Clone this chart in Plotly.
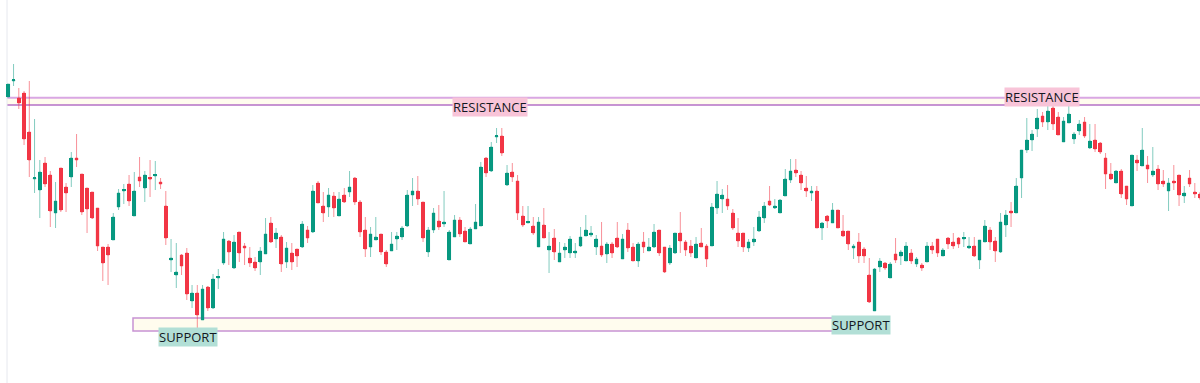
import plotly.graph_objects as go

# ---- data (price units) ----
open_ = [303,319,302,307,268,221,210,237,225,187,
         232,213,223,242,226,212,208,192,153,153,
         160,193,209,216,184,223,212,222,224,218,
         194,140,125,145,147,99,107,80,113,92,
         122,137,159,132,168,154,142,138,138,146,
         177,161,163,138,147,151,153,170,168,217,
         194,193,204,184,205,208,222,198,170,153,
         160,166,148,149,161,163,174,205,209,198,
         148,170,179,176,140,163,180,169,156,171,
         174,242,229,263,264,215,228,219,184,177,
         174,153,175,150,162,138,150,147,147,154,
         164,165,153,154,146,156,162,141,170,153,
         139,158,149,153,170,153,137,147,167,158,
         154,142,157,154,154,192,201,201,187,167,
         167,152,158,169,182,199,192,187,204,220,
         230,225,212,207,209,172,184,177,190,169,
         169,152,158,151,125,89,133,137,122,146,
         144,139,147,136,135,138,154,161,144,162,
         158,162,161,152,154,140,158,170,159,148,
         175,189,187,222,250,260,271,284,278,292,
         283,258,277,261,269,278,252,260,257,242,
         226,217,229,214,194,240,234,235,225,231,
         219,209,219,225,204,222,208,206]
high = [316,336,312,309,319,281,240,243,229,218,
        232,217,248,266,226,212,208,192,153,156,
        187,211,216,225,228,243,229,240,239,222,
        209,161,157,146,152,115,115,115,114,126,
        131,168,160,165,168,157,153,143,153,182,
        183,172,165,158,157,151,179,174,215,219,
        208,212,208,208,212,229,223,200,183,173,
        183,166,150,168,168,174,210,222,224,198,
        173,192,195,209,170,185,183,173,173,196,
        238,243,258,272,272,235,237,225,194,194,
        183,183,192,168,171,158,157,164,157,173,
        185,174,165,178,158,158,178,166,177,157,
        158,168,162,176,170,153,155,167,188,160,
        160,163,172,156,197,219,211,215,191,182,
        167,161,173,189,198,214,201,201,231,241,
        241,229,224,214,214,178,185,197,190,185,
        169,156,167,153,142,132,142,138,138,162,
        150,158,151,143,137,158,158,161,152,163,
        167,163,168,163,163,160,180,173,163,187,
        190,198,222,250,282,270,291,288,294,302,
        288,283,307,268,280,283,276,276,258,247,
        237,230,231,214,245,245,272,244,253,235,
        230,222,235,225,214,230,217,208]
low = [303,314,291,255,223,207,182,213,173,172,
       188,188,213,233,185,167,181,149,119,115,
       160,190,196,194,184,213,198,203,210,211,
       155,128,112,125,100,92,68,80,89,91,
       111,135,135,131,138,135,133,129,125,146,
       157,152,128,132,130,133,152,157,167,197,
       178,183,183,184,197,203,195,163,143,143,
       160,145,133,149,150,160,173,194,195,158,
       143,167,170,173,140,163,163,158,156,171,
       174,223,228,257,244,214,218,180,173,177,
       165,153,162,127,140,138,142,142,142,153,
       164,163,145,143,137,142,152,141,148,139,
       133,147,149,152,144,127,135,146,147,144,
       143,142,153,133,154,186,187,190,170,153,
       148,148,154,168,177,194,191,187,204,217,
       223,210,203,199,172,160,172,177,172,163,
       150,141,137,137,97,89,128,130,122,137,
       135,139,136,133,129,138,146,143,144,151,
       151,152,153,151,143,131,158,150,138,147,
       163,173,187,202,247,249,263,273,270,270,
       265,258,277,256,265,262,251,248,246,211,
       220,217,202,195,194,229,234,217,223,210,
       213,189,210,194,197,213,202,200]
close = [316,320,297,261,240,222,228,216,189,199,
         190,207,242,240,188,191,182,154,137,145,
         183,207,210,199,209,219,225,221,225,216,
         162,142,128,134,106,107,85,111,92,121,
         123,161,148,158,147,152,137,132,149,166,
         158,167,136,152,138,144,176,162,209,197,
         187,205,192,201,198,213,198,168,151,166,
         163,148,136,156,164,172,205,209,201,162,
         170,187,173,178,168,180,166,158,171,178,
         233,227,253,264,247,227,223,187,175,178,
         167,178,162,154,148,147,153,161,149,163,
         170,167,161,145,156,147,153,161,152,139,
         156,153,153,168,147,128,152,167,159,150,
         147,156,153,141,193,206,205,194,172,159,
         153,158,161,183,194,195,194,200,221,229,
         227,217,209,209,172,177,179,190,172,164,
         156,154,144,144,98,131,139,132,136,140,
         148,154,139,141,132,154,150,147,150,156,
         154,156,162,154,144,160,174,158,149,178,
         185,187,214,250,260,266,282,278,289,276,
         265,279,286,266,276,264,259,251,248,226,
         221,229,206,201,245,237,250,231,229,216,
         216,217,217,205,207,216,206,202]
sessions = list(range(1, len(open_) + 1))

# zone levels (price units)
resistance_top, resistance_bottom = 302.3, 295.0
support_top, support_bottom = 82.0, 69.0

UP, DOWN = "#089981", "#f23645"
UP_WICK, DOWN_WICK = "rgba(8,153,129,0.5)", "rgba(242,54,69,0.55)"

fig = go.Figure()

# zones (drawn below the candles)
fig.add_shape(type="rect", xref="paper", yref="y", x0=7/1200, x1=1, y0=resistance_bottom, y1=resistance_top,
              fillcolor="#fffcee", line_width=0, layer="below")
fig.add_shape(type="line", xref="paper", yref="y", x0=7/1200, x1=1, y0=resistance_top, y1=resistance_top,
              line=dict(color="#d9a7e3", width=2), layer="below")
fig.add_shape(type="line", xref="paper", yref="y", x0=7/1200, x1=1, y0=resistance_bottom, y1=resistance_bottom,
              line=dict(color="#b571c6", width=1.5), layer="below")
fig.add_shape(type="rect", xref="paper", yref="y", x0=133/1200, x1=889/1200, y0=support_bottom, y1=support_top,
              fillcolor="#fffcee", line=dict(color="#c892d4", width=1.5), layer="below")
fig.add_shape(type="line", xref="paper", yref="paper", x0=7/1200, x1=7/1200, y0=0, y1=1,
              line=dict(color="#e6e8ee", width=1), layer="below")

fig.add_trace(go.Candlestick(
    x=sessions, open=open_, high=high, low=low, close=close,
    increasing=dict(line=dict(color=UP_WICK, width=1), fillcolor=UP_WICK),
    decreasing=dict(line=dict(color=DOWN_WICK, width=1), fillcolor=DOWN_WICK),
    whiskerwidth=0, hoverinfo="skip", showlegend=False))

body_base = [min(o, c) for o, c in zip(open_, close)]
body_len = [max(abs(c - o), 1.2) for o, c in zip(open_, close)]
body_col = [UP if c >= o else DOWN for o, c in zip(open_, close)]
fig.add_trace(go.Bar(x=sessions, base=body_base, y=body_len, width=0.74,
                     marker=dict(color=body_col, line_width=0), hoverinfo="skip", showlegend=False))

lab_font = dict(family="Open Sans, sans-serif", size=13, color="#131722")
def label(text, xpx, yval, bg):
    fig.add_annotation(x=xpx/1200, xref="paper", y=yval, yref="y", text=text, showarrow=False,
                       font=lab_font, bgcolor=bg, borderpad=0, xanchor="center", yanchor="middle")

label("RESISTANCE", 489.5, 293.0, "#f8c4d8")
label("RESISTANCE", 1041.5, 303.5, "#f8c4d8")
label("SUPPORT", 188, 63.0, "#b2dfd6")
label("SUPPORT", 860.5, 75.0, "#b2dfd6")

fig.update_layout(
    width=1200, height=383, margin=dict(l=0, r=0, t=0, b=0),
    paper_bgcolor="white", plot_bgcolor="white",
    xaxis=dict(range=[-0.581, 227.99], visible=False, rangeslider=dict(visible=False), fixedrange=True),
    yaxis=dict(range=[17, 400], visible=False, fixedrange=True),
    showlegend=False, bargap=0)

fig.write_html("out.html")
